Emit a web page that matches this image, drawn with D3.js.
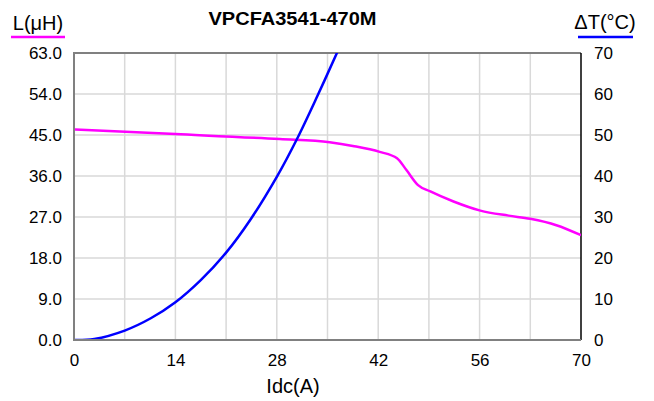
<!DOCTYPE html>
<html><head><meta charset="utf-8">
<script src="https://cdn.jsdelivr.net/npm/d3@7"></script>
<style>
body{margin:0;background:#fff;}
svg{display:block;font-family:"Liberation Sans",Arial,sans-serif;}
</style></head>
<body>
<svg id="chart" width="654" height="401"></svg>
<script>
const title = "VPCFA3541-470M";
const xTicks = [0, 14, 28, 42, 56, 70];
const xGrid = [0, 7, 14, 21, 28, 35, 42, 49, 56, 63, 70];
const leftTicks = [0, 9, 18, 27, 36, 45, 54, 63];
const rightTicks = [0, 10, 20, 30, 40, 50, 60, 70];

// Inductance L(µH) vs Idc(A)
const lIdc = [0, 14, 28.4, 35.3, 38.5, 42.2, 44.6, 45.9, 47.5, 49.2, 52.4, 56.1, 60, 63.0, 66.6, 70];
const lVal = [46.2, 45.2, 44.1, 43.4, 42.6, 41.3, 39.9, 37.3, 34.0, 32.6, 30.4, 28.4, 27.3, 26.6, 25.2, 23.0];

// Temperature rise ΔT(°C) vs Idc(A)
const tIdc = [0, 2.8, 7, 10.6, 14, 17.5, 21, 24.3, 28.1, 30.75, 33.6, 36.3, 37.2];
const tVal = [0, 0.25, 2.3, 5.3, 9.2, 14.6, 21.3, 29.2, 40.1, 48.9, 59.5, 70, 73.6];

const svg = d3.select("#chart");
const m = {l: 74, r: 581, t: 53, b: 340};
const x = d3.scaleLinear().domain([0, 70]).range([m.l, m.r]);
const yL = d3.scaleLinear().domain([0, 63]).range([m.b, m.t]);
const yT = d3.scaleLinear().domain([0, 70]).range([m.b, m.t]);

// grid
svg.append("g").selectAll("line").data(xGrid.slice(1, -1)).join("line")
  .attr("x1", d => x(d)).attr("x2", d => x(d)).attr("y1", m.t).attr("y2", m.b)
  .attr("stroke", "#d9d9d9").attr("stroke-width", 1.5);
svg.append("g").selectAll("line").data(leftTicks.slice(1, -1)).join("line")
  .attr("x1", m.l).attr("x2", m.r).attr("y1", d => yL(d)).attr("y2", d => yL(d))
  .attr("stroke", "#d9d9d9").attr("stroke-width", 1.5);

// frame
svg.append("line").attr("x1", m.l).attr("x2", m.r).attr("y1", m.t).attr("y2", m.t).attr("stroke", "#808080").attr("stroke-width", 2);
svg.append("line").attr("x1", m.r).attr("x2", m.r).attr("y1", m.t).attr("y2", m.b).attr("stroke", "#000").attr("stroke-width", 1.5);

// clip
svg.append("clipPath").attr("id", "clip").append("rect")
  .attr("x", m.l).attr("y", m.t).attr("width", m.r - m.l).attr("height", m.b - m.t);

const lineL = d3.line().x(d => x(d[0])).y(d => yL(d[1])).curve(d3.curveMonotoneX);
const lineT = d3.line().x(d => x(d[0])).y(d => yT(d[1])).curve(d3.curveCatmullRom.alpha(0.5));

svg.append("path").datum(lIdc.map((v, i) => [v, lVal[i]]))
  .attr("d", lineL).attr("fill", "none").attr("stroke", "#ff00ff").attr("stroke-width", 2.5)
  .attr("clip-path", "url(#clip)");
svg.append("path").datum(tIdc.map((v, i) => [v, tVal[i]]))
  .attr("d", lineT).attr("fill", "none").attr("stroke", "#0000ff").attr("stroke-width", 2.5)
  .attr("clip-path", "url(#clip)");

svg.append("line").attr("x1", m.l).attr("x2", m.l).attr("y1", m.t - 1).attr("y2", m.b + 1).attr("stroke", "#808080").attr("stroke-width", 2);
svg.append("line").attr("x1", m.l - 1).attr("x2", m.r).attr("y1", m.b).attr("y2", m.b).attr("stroke", "#808080").attr("stroke-width", 2);

// axes (labels only)
const fs = "17px";
const axL = d3.axisLeft(yL).tickValues(leftTicks).tickFormat(d3.format(".1f")).tickSize(0).tickPadding(12);
const gL = svg.append("g").attr("transform", `translate(${m.l},0)`).call(axL);
const axR = d3.axisRight(yT).tickValues(rightTicks).tickFormat(d3.format("d")).tickSize(0).tickPadding(13);
const gR = svg.append("g").attr("transform", `translate(${m.r},0)`).call(axR);
const axB = d3.axisBottom(x).tickValues(xTicks).tickFormat(d3.format("d")).tickSize(0).tickPadding(14);
const gB = svg.append("g").attr("transform", `translate(0,${m.b})`).call(axB);
[gL, gR, gB].forEach(g => {
  g.select(".domain").remove();
  g.selectAll("text").attr("font-size", fs).attr("fill", "#000").attr("font-family", "Liberation Sans, Arial, sans-serif");
});

// titles
svg.append("text").attr("x", 292.5).attr("y", 25).attr("text-anchor", "middle")
  .attr("font-size", "18px").attr("font-weight", "bold").attr("textLength", 168).attr("lengthAdjust", "spacingAndGlyphs").text(title);
svg.append("text").attr("x", 38).attr("y", 30).attr("text-anchor", "middle").attr("font-size", "20px").text("L(μH)");
svg.append("line").attr("x1", 11).attr("x2", 65).attr("y1", 37).attr("y2", 37).attr("stroke", "#ff00ff").attr("stroke-width", 2.5);
svg.append("text").attr("x", 605).attr("y", 29).attr("text-anchor", "middle").attr("font-size", "20px").text("ΔT(°C)");
svg.append("line").attr("x1", 578).attr("x2", 633).attr("y1", 37).attr("y2", 37).attr("stroke", "#0000ff").attr("stroke-width", 2.5);
svg.append("text").attr("x", 293).attr("y", 393).attr("text-anchor", "middle").attr("font-size", "20px").text("Idc(A)");
</script>
</body></html>
